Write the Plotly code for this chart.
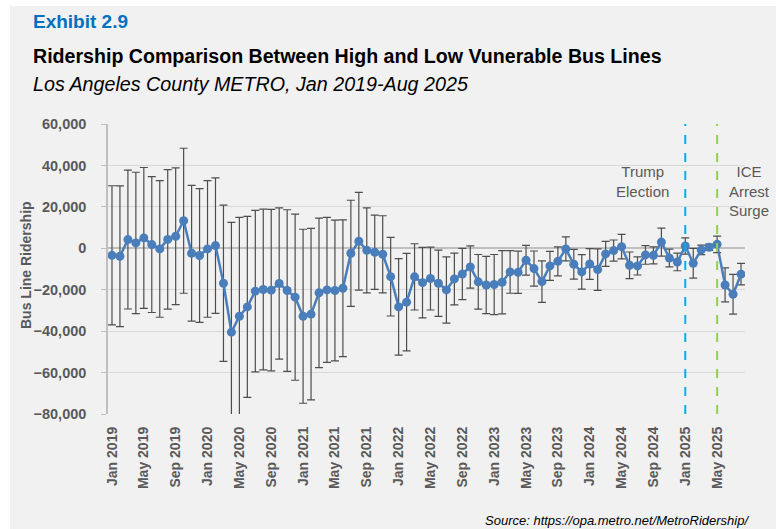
import pandas as pd
import plotly.graph_objects as go

# ---- data -------------------------------------------------------------
months = [d.strftime("%b %Y") for d in pd.date_range("2019-01-01", "2025-08-01", freq="MS")]

ridership_diff = [
    -3400, -3850, 4200, 2600, 5000, 1800, -300, 4300, 5800, 13300,
    -2400, -3500, -300, 1300, -16900, -40500, -32800, -28300, -20700, -19900,
    -20200, -17000, -20400, -23600, -32800, -31800, -21500, -20100, -20400, -19300,
    -2400, 3400, -1000, -1900, -2900, -13700, -28300, -26000, -13800, -16600,
    -14600, -16900, -20100, -14800, -12400, -9000, -16200, -17700, -17500, -16400,
    -11400, -11600, -5800, -9800, -16100, -8500, -6300, -300, -7700, -11400,
    -7600, -10300, -2700, -1100, 800, -8200, -8500, -3200, -3400, 3000,
    -4700, -6600, 1100, -7200, -800, 500, 1900, -17700, -22200, -12500,
]

error_margin = [
    33600, 34000, 33500, 34100, 34000, 32800, 33000, 33700, 33000, 35000,
    32800, 32300, 33000, 32700, 37700, 53000, 47700, 43700, 39000, 38800,
    39000, 36500, 39000, 40100, 42000, 41400, 36100, 35000, 34000, 33000,
    25600, 23600, 20500, 17900, 18600, 19000, 23300, 23500, 16000, 17000,
    15200, 16000, 16000, 12500, 12400, 10200, 13200, 13800, 14500, 15300,
    10300, 10200, 7200, 8500, 10000, 7000, 7000, 5800, 7150, 8350,
    7400, 10000, 6000, 5100, 5900, 6400, 4400, 4500, 4100, 6750,
    4250, 4250, 3900, 7200, 2300, 1500, 4000, 8200, 9600, 5200,
]

tick_every = 4
y_ticks = [60000, 40000, 20000, 0, -20000, -40000, -60000, -80000]
event_months = ["Jan 2025", "May 2025"]
event_colors = ["#00B0F0", "#92D050"]
event_labels = ["Trump<br>Election", "ICE<br>Arrest<br>Surge"]

# ---- figure -----------------------------------------------------------
x_idx = list(range(len(months)))
tick_vals = x_idx[::tick_every]
tick_text = months[::tick_every]

GRAY = "#595959"
SANS = "Liberation Sans, Arial, sans-serif"

fig = go.Figure()
fig.add_trace(go.Scatter(
    x=x_idx, y=ridership_diff, mode="lines+markers",
    line=dict(color="#4A7EBB", width=2.5),
    marker=dict(size=9, color="#4A7EBB"),
    error_y=dict(type="data", array=error_margin, visible=True,
                 color="#4D4D4D", thickness=1.2, width=4),
    showlegend=False,
))

W, H = 776, 529
L, R, T, B = 108, 31, 124, 115
pw, ph = W - L - R, H - T - B

def px(xp):
    return (xp - L) / pw

def py(yp):
    return (H - B - yp) / ph

shapes = [dict(type="rect", xref="paper", yref="paper",
               x0=px(10), x1=px(W + 2), y0=py(H + 2), y1=py(6),
               fillcolor="#F1F1F1", line_width=0, layer="below")]
for name, color in zip(event_months, event_colors):
    xi = months.index(name)
    shapes.append(dict(type="line", xref="x", yref="paper", x0=xi, x1=xi, y0=0, y1=1,
                       line=dict(color=color, width=2, dash="dash")))

annotations = [
    dict(text=event_labels[0], x=px(642), y=py(181), xref="paper", yref="paper",
         xanchor="center", yanchor="middle",
         showarrow=False, font=dict(family=SANS, size=15, color=GRAY), align="center"),
    dict(text=event_labels[1], x=px(749), y=py(191), xref="paper", yref="paper",
         xanchor="center", yanchor="middle",
         showarrow=False, font=dict(family=SANS, size=15, color=GRAY), align="center"),
    dict(text="<b>Exhibit 2.9</b>", x=px(31), y=py(22), xref="paper", yref="paper",
         xanchor="left", yanchor="middle", showarrow=False,
         font=dict(family=SANS, size=19, color="#0070C0")),
    dict(text="<b>Ridership Comparison Between High and Low Vunerable Bus Lines</b>",
         x=px(31), y=py(56), xref="paper", yref="paper", xanchor="left", yanchor="middle",
         showarrow=False, font=dict(family=SANS, size=19.6, color="#000000")),
    dict(text="<i>Los Angeles County METRO, Jan 2019-Aug 2025</i>",
         x=px(31), y=py(84), xref="paper", yref="paper", xanchor="left", yanchor="middle",
         showarrow=False, font=dict(family=SANS, size=19.7, color="#000000")),
    dict(text="<i>Source: https://opa.metro.net/MetroRidership/</i>",
         x=px(751), y=py(520), xref="paper", yref="paper", xanchor="right", yanchor="middle",
         showarrow=False, font=dict(family=SANS, size=13, color="#000000")),
    dict(text="<b>Bus Line Ridership</b>", x=px(26), y=py(265), xref="paper", yref="paper",
         xanchor="center", yanchor="middle",
         textangle=-90, showarrow=False, font=dict(family=SANS, size=14, color=GRAY)),
]

fig.update_layout(
    width=W, height=H,
    margin=dict(l=L, r=R, t=T, b=B, pad=0),
    paper_bgcolor="#FFFFFF", plot_bgcolor="rgba(0,0,0,0)",
    shapes=shapes, annotations=annotations,
    font=dict(family=SANS, color=GRAY),
)
fig.update_xaxes(
    range=[-0.5, len(months) - 0.5], tickmode="array", tickvals=tick_vals, ticktext=tick_text,
    tickangle=-90, showgrid=False, zeroline=False, showline=False, ticks="",
    tickfont=dict(family=SANS, size=14, color=GRAY, weight="bold"),
    ticklabelstandoff=9,
)
fig.update_yaxes(
    range=[-80000, 60000], tickmode="array", tickvals=y_ticks,
    tickformat=",d", showgrid=True, gridcolor="#D9D9D9", gridwidth=1.3,
    zeroline=True, zerolinecolor="#BFBFBF", zerolinewidth=1.5,
    showline=True, linecolor="#BFBFBF", linewidth=1.5, ticks="outside", ticklen=5,
    tickcolor="#BFBFBF", tickfont=dict(family=SANS, size=14.5, color=GRAY, weight="bold"),
    ticklabelstandoff=12,
)

fig.write_html("out.html", config={"displayModeBar": False},
               post_script="document.body.style.margin='0';")
